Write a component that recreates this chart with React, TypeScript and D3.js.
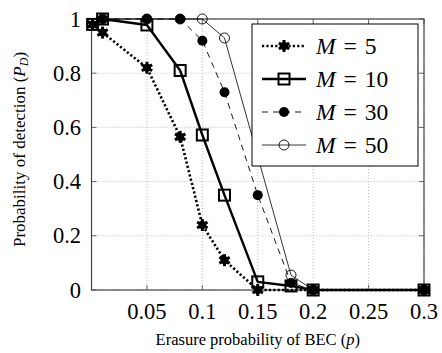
import React from "react";
import * as d3 from "d3";

const pValues5 = [0.001, 0.01, 0.05, 0.08, 0.1, 0.12, 0.15, 0.2, 0.3];
const pd5 = [0.98, 0.95, 0.82, 0.565, 0.24, 0.11, 0.0, 0.0, 0.0];
const pValues10 = [0.001, 0.01, 0.05, 0.08, 0.1, 0.12, 0.15, 0.18, 0.2, 0.3];
const pd10 = [0.98, 1.0, 0.978, 0.81, 0.572, 0.35, 0.03, 0.015, 0.0, 0.0];
const pValues30 = [0.01, 0.05, 0.08, 0.1, 0.12, 0.15, 0.18, 0.2, 0.3];
const pd30 = [1.0, 1.0, 1.0, 0.92, 0.73, 0.35, 0.026, 0.0, 0.0];
const pValues50 = [0.01, 0.05, 0.08, 0.1, 0.12, 0.18, 0.2, 0.3];
const pd50 = [1.0, 1.0, 1.0, 1.0, 0.93, 0.055, 0.0, 0.0];
const legendLabels = ["5", "10", "30", "50"];
const xTicks = [0.05, 0.1, 0.15, 0.2, 0.25, 0.3];
const yTicks = [0, 0.2, 0.4, 0.6, 0.8, 1];

const W = 442, H = 353;
const left = 91.5, right = 424, top = 19, bottom = 290;
const x = d3.scaleLinear().domain([0, 0.3]).range([left, right]);
const y = d3.scaleLinear().domain([0, 1]).range([bottom, top]);
const serif = "'Liberation Serif', 'Times New Roman', serif";

function zip(xs: number[], ys: number[]): [number, number][] {
  return xs.map((v, i) => [v, ys[i]]);
}

const line = d3.line<[number, number]>().x(d => x(d[0])).y(d => y(d[1]));

function Asterisk({ cx, cy }: { cx: number; cy: number }) {
  const r = 6;
  const spokes = [0, 60, 120];
  return (
    <g>
      {spokes.map(a => {
        const rad = (a * Math.PI) / 180 + Math.PI / 2;
        return (
          <line key={a} x1={cx - r * Math.cos(rad)} y1={cy - r * Math.sin(rad)} x2={cx + r * Math.cos(rad)} y2={cy + r * Math.sin(rad)} stroke="#000" strokeWidth={3} />
        );
      })}
      <circle cx={cx} cy={cy} r={4} fill="#000" />
    </g>
  );
}

function Marker({ kind, cx, cy }: { kind: number; cx: number; cy: number }) {
  if (kind === 0) return <Asterisk cx={cx} cy={cy} />;
  if (kind === 1) return <rect x={cx - 5.5} y={cy - 5.5} width={11} height={11} fill="none" stroke="#000" strokeWidth={2} />;
  if (kind === 2) return <circle cx={cx} cy={cy} r={5} fill="#000" />;
  return <circle cx={cx} cy={cy} r={5} fill="none" stroke="#000" strokeWidth={0.9} />;
}

const styles = [
  { w: 2.6, dash: "2.2 2.2" },
  { w: 2.4, dash: "" },
  { w: 0.9, dash: "6 5" },
  { w: 0.8, dash: "" },
];

export default function App() {
  const series = [zip(pValues5, pd5), zip(pValues10, pd10), zip(pValues30, pd30), zip(pValues50, pd50)];
  return (
    <svg width={W} height={H} style={{ position: "absolute", left: 0, top: 0 }}>
      <rect width={W} height={H} fill="#fff" />
      {/* grid */}
      {xTicks.map(t => (
        <line key={"gx" + t} x1={x(t)} x2={x(t)} y1={top} y2={bottom} stroke="#aaa" strokeWidth={0.8} strokeDasharray="1 2" />
      ))}
      {yTicks.map(t => (
        <line key={"gy" + t} x1={left} x2={right} y1={y(t)} y2={y(t)} stroke="#aaa" strokeWidth={0.8} strokeDasharray="1 2" />
      ))}
      {/* ticks */}
      {xTicks.map(t => (
        <g key={"tx" + t}>
          <line x1={x(t)} x2={x(t)} y1={bottom} y2={bottom - 5} stroke="#444" strokeWidth={0.8} />
          <line x1={x(t)} x2={x(t)} y1={top} y2={top + 5} stroke="#444" strokeWidth={0.8} />
        </g>
      ))}
      {yTicks.map(t => (
        <g key={"ty" + t}>
          <line x1={left} x2={left + 5} y1={y(t)} y2={y(t)} stroke="#444" strokeWidth={0.8} />
          <line x1={right} x2={right - 5} y1={y(t)} y2={y(t)} stroke="#444" strokeWidth={0.8} />
        </g>
      ))}
      <rect x={left} y={top} width={right - left} height={bottom - top} fill="none" stroke="#444" strokeWidth={1.2} />
      {/* series */}
      {series.map((s, i) => (
        <g key={"s" + i}>
          <path d={line(s) || ""} fill="none" stroke="#000" strokeWidth={styles[i].w} strokeDasharray={styles[i].dash || undefined} strokeLinejoin="round" />
          {s.map((d, j) => (
            <Marker key={j} kind={i} cx={x(d[0])} cy={y(d[1])} />
          ))}
        </g>
      ))}
      {/* tick labels */}
      {xTicks.map(t => (
        <text key={"lx" + t} x={x(t)} y={319} textAnchor="middle" fontFamily={serif} fontSize={22.5}>
          {String(t)}
        </text>
      ))}
      {yTicks.map(t => (
        <text key={"ly" + t} x={81} y={y(t) + 7.5} textAnchor="end" fontFamily={serif} fontSize={22.5}>
          {String(t)}
        </text>
      ))}
      {/* axis labels */}
      <text x={(left + right) / 2} y={345} textAnchor="middle" fontFamily={serif} fontSize={16.5}>
        Erasure probability of BEC (<tspan fontStyle="italic">p</tspan>)
      </text>
      <text transform={`translate(25, ${(top + bottom) / 2 - 5}) rotate(-90)`} textAnchor="middle" fontFamily={serif} fontSize={17}>
        Probability of detection (<tspan fontStyle="italic">P</tspan>
        <tspan fontStyle="italic" fontSize={12} dy={3}>D</tspan>
        <tspan dy={-3}>)</tspan>
      </text>
      {/* legend */}
      <rect x={252} y={24} width={166} height={142} fill="#fff" stroke="#000" strokeWidth={1} />
      {legendLabels.map((lab, i) => {
        const ly = 46 + i * 33;
        return (
          <g key={"lg" + i}>
            <line x1={262} x2={306} y1={ly} y2={ly} stroke="#000" strokeWidth={styles[i].w} strokeDasharray={styles[i].dash || undefined} />
            <Marker kind={i} cx={284} cy={ly} />
            <text x={316} y={ly + 8} fontFamily={serif} fontSize={23.5}>
              <tspan fontStyle="italic">M</tspan>
              <tspan dx={8}>=</tspan>
              <tspan dx={8}>{lab}</tspan>
            </text>
          </g>
        );
      })}
    </svg>
  );
}
